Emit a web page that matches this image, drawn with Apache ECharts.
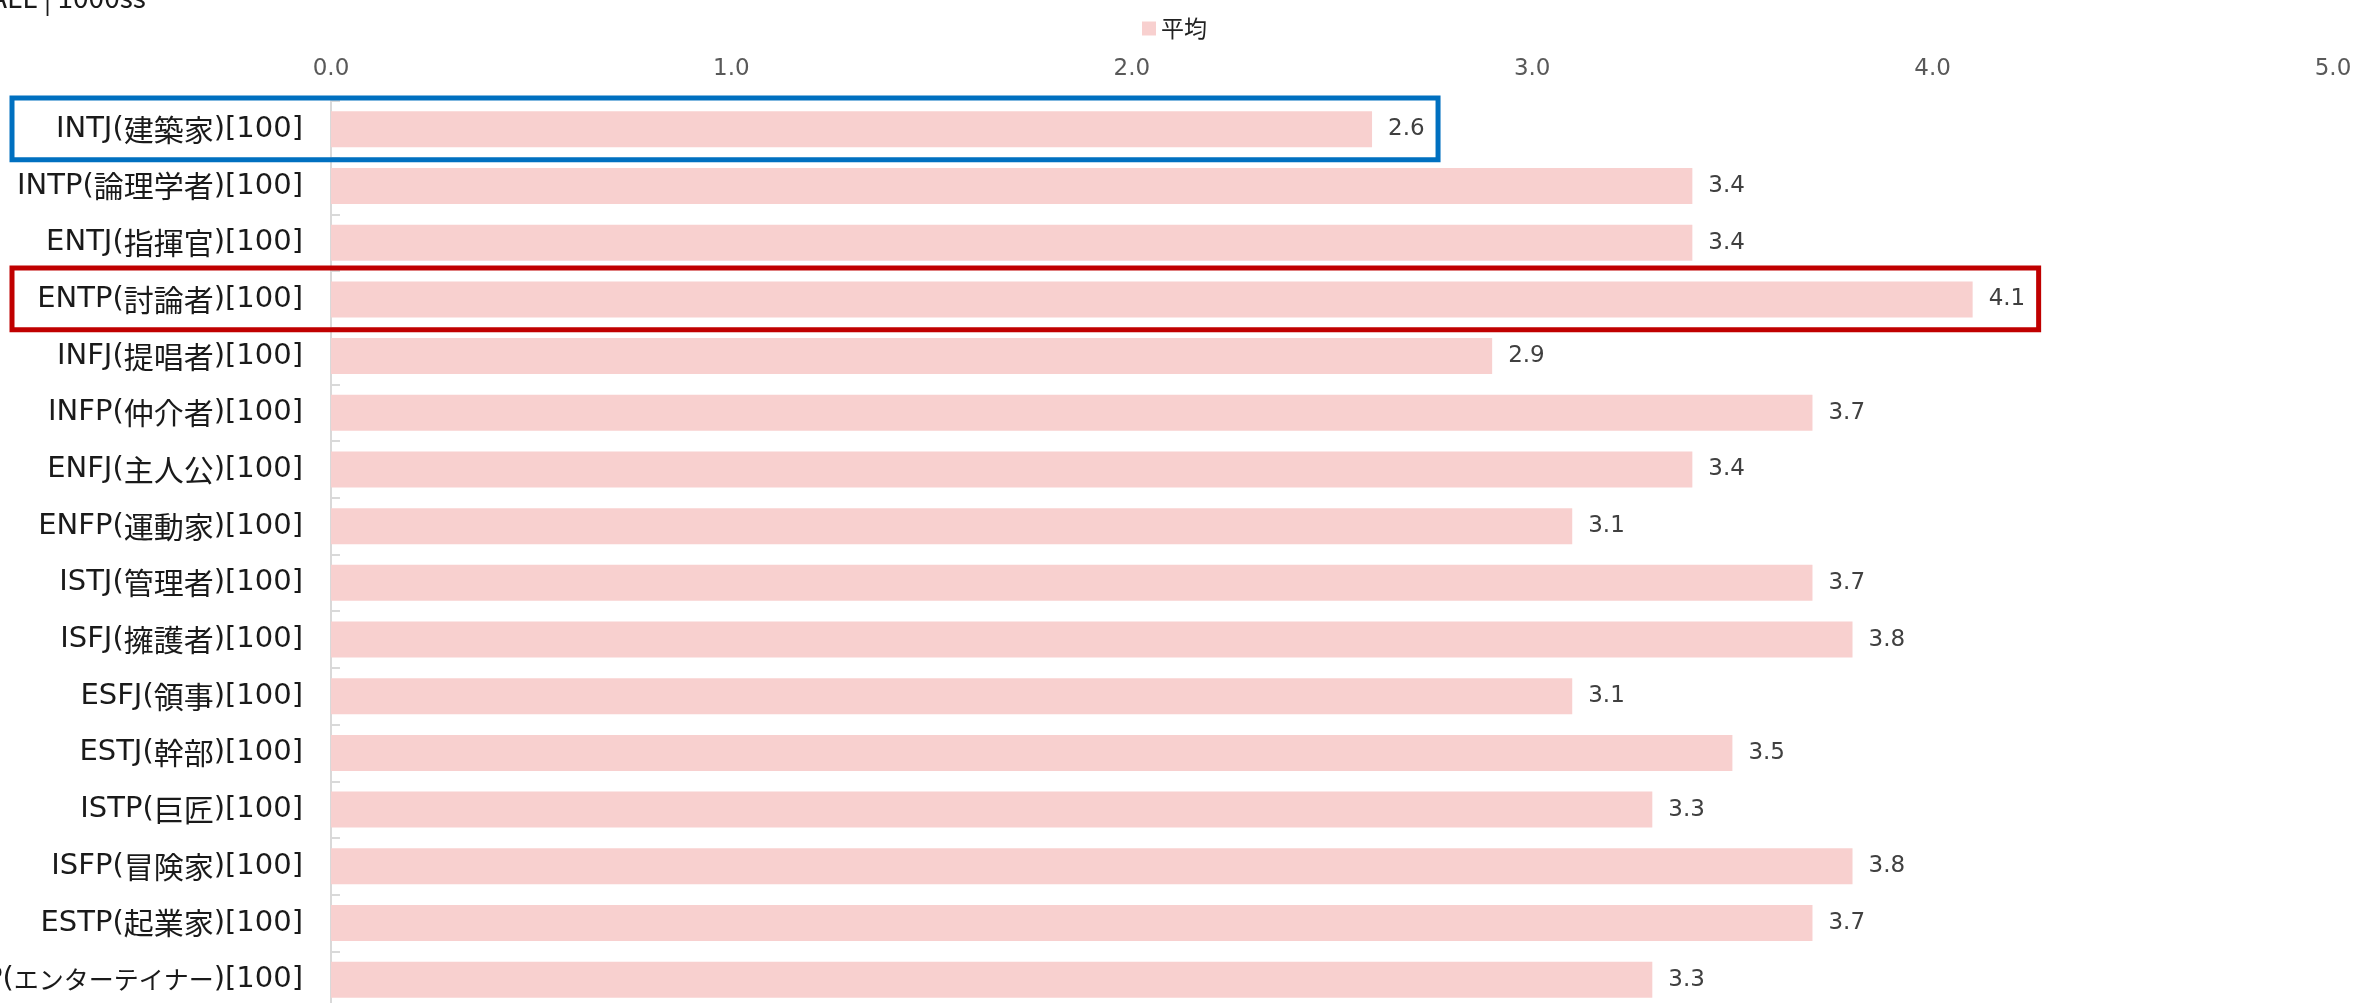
<!DOCTYPE html>
<html lang="ja">
<head>
<meta charset="utf-8">
<title>タイプ別 平均</title>
<script src="https://cdn.jsdelivr.net/npm/echarts@6/dist/echarts.min.js"></script>
<style>
  html, body { margin: 0; padding: 0; background: #fff; }
  #chart { width: 2356px; height: 1003px; }
</style>
</head>
<body>
<div id="chart"></div>
<script>
// ============================================================
// データ
// ============================================================
const categories = [
  'INTJ(建築家)[100]', 'INTP(論理学者)[100]', 'ENTJ(指揮官)[100]', 'ENTP(討論者)[100]',
  'INFJ(提唱者)[100]', 'INFP(仲介者)[100]', 'ENFJ(主人公)[100]', 'ENFP(運動家)[100]',
  'ISTJ(管理者)[100]', 'ISFJ(擁護者)[100]', 'ESFJ(領事)[100]', 'ESTJ(幹部)[100]',
  'ISTP(巨匠)[100]', 'ISFP(冒険家)[100]', 'ESTP(起業家)[100]', 'ESFP(エンターテイナー)[100]',
];
const averages = [2.6, 3.4, 3.4, 4.1, 2.9, 3.7, 3.4, 3.1, 3.7, 3.8, 3.1, 3.5, 3.3, 3.8, 3.7, 3.3];
const seriesName = '平均';
const xTicks = [0, 1, 2, 3, 4, 5];
const headerText = 'ALL | 1000ss';

// 枠で囲む行
const blueRows = [0];
const redRows = [3];

// 色
const COLORS = {
  bar: '#f8d0cf',
  blue: '#0070c0',
  red: '#c00000',
  axis: '#d9d9d9',
  tick: '#595959',
  label: '#1a1a1a',
  value: '#404040',
};

// 英数字は Verdana 系、漢字・カナは CJK フォント（Meiryo 風の幅に寄せる）
const jpLabel = v => v
  .replace(/([\u4e00-\u9fff]+)/g, '{j|$1}')
  .replace(/([\u30a0-\u30ff]+)/g, '{k|$1}');

const chart = echarts.init(document.getElementById('chart'));

chart.setOption({
  animation: false,
  backgroundColor: '#fff',
  legend: {
    data: [seriesName],
    left: 1137,
    top: 12,
    icon: 'rect',
    itemWidth: 14,
    itemHeight: 14,
    itemGap: 6,
    textStyle: { fontSize: 23, color: '#222', fontFamily: 'Noto Sans CJK JP' },
  },
  // ラベルが左にはみ出すのはそのまま（元画像も切れている）
  grid: { left: 331, right: 23, top: 101, height: 907, outerBoundsMode: 'none' },
  xAxis: {
    type: 'value',
    position: 'top',
    min: xTicks[0],
    max: xTicks[xTicks.length - 1],
    interval: xTicks[1] - xTicks[0],
    axisLine: { show: false },
    axisTick: { show: false },
    splitLine: { show: false },
    axisLabel: {
      margin: 20,
      fontSize: 23,
      color: COLORS.tick,
      fontFamily: 'DejaVu Sans',
      formatter: v => v.toFixed(1),
    },
  },
  yAxis: {
    type: 'category',
    inverse: true,
    data: categories,
    axisLine: { show: true, lineStyle: { color: COLORS.axis, width: 2 } },
    axisTick: { show: true, inside: true, length: 9, lineStyle: { color: COLORS.axis, width: 2 } },
    axisLabel: {
      margin: 28,
      fontSize: 29,
      color: COLORS.label,
      fontFamily: 'DejaVu Sans',
      formatter: jpLabel,
      rich: {
        j: { fontSize: 30, fontFamily: 'Noto Sans CJK JP', color: COLORS.label },
        k: { fontSize: 25, fontFamily: 'Noto Sans CJK JP', color: COLORS.label },
      },
    },
  },
  series: [{
    name: seriesName,
    type: 'bar',
    data: averages,
    barWidth: 36,
    itemStyle: { color: COLORS.bar },
    label: {
      show: true,
      position: 'right',
      distance: 16,
      fontSize: 23,
      color: COLORS.value,
      fontFamily: 'DejaVu Sans',
      formatter: p => p.value.toFixed(1),
    },
  }],
  graphic: [{
    id: 'header',
    type: 'text',
    x: -10,
    y: 11,
    style: {
      text: headerText,
      fontSize: 28,
      fontFamily: 'Noto Sans CJK JP',
      fill: '#1a1a1a',
      verticalAlign: 'bottom',
    },
  }],
});

// ============================================================
// 強調枠（軸の座標から算出）
// ============================================================
function rowBox(idx, color) {
  const center = chart.convertToPixel({ gridIndex: 0 }, [averages[idx], idx]);
  const next = chart.convertToPixel({ gridIndex: 0 }, [0, idx + 1]);
  const band = Math.abs(next[1] - center[1]);
  const left = 12;
  const right = center[0] + 66;
  return {
    id: 'box-' + idx,
    type: 'rect',
    z: 100,
    shape: { x: left, y: center[1] - band / 2 - 3, width: right - left, height: band + 5 },
    style: { fill: 'none', stroke: color, lineWidth: 5 },
  };
}

const boxes = [];
blueRows.forEach(i => boxes.push(rowBox(i, COLORS.blue)));
redRows.forEach(i => boxes.push(rowBox(i, COLORS.red)));
chart.setOption({ graphic: boxes });

window.addEventListener('resize', () => chart.resize());
</script>
</body>
</html>
